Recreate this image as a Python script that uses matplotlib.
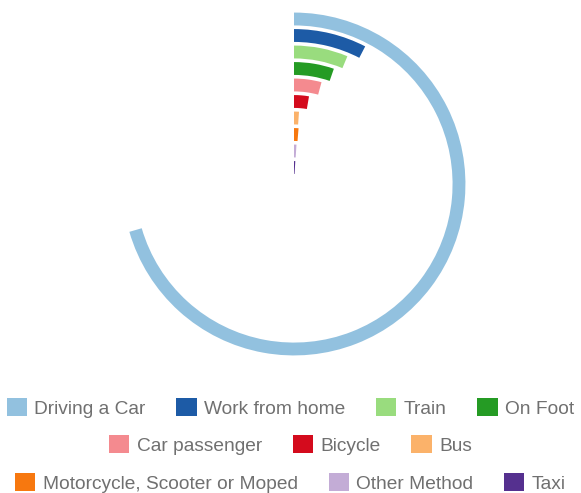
import numpy as np
import matplotlib.pyplot as plt
from matplotlib.patches import Patch

plt.rcParams['font.family'] = ['Liberation Sans', 'DejaVu Sans']

# share of journeys to work (%), full circle = 100
modes = ['Driving a Car', 'Work from home', 'Train', 'On Foot',
         'Car passenger', 'Bicycle', 'Bus',
         'Motorcycle, Scooter or Moped', 'Other Method', 'Taxi']
shares = [70.5, 7.6, 6.3, 5.3, 4.2, 2.7, 1.1, 1.3, 1.0, 0.9]
colors = ['#92c1df', '#1d5ba6', '#99dc7e', '#259b24', '#f48a8f',
          '#d40b1d', '#fbb26a', '#f7780f', '#c3acd6', '#55308f']
legend_rows = [4, 3, 3]

fig = plt.figure(figsize=(5.81, 4.93), dpi=100)
W, H = 581, 493
cx, cy = 294, 184          # centre of the rings in pixels
step = 16.5                # px per ring
rmax = 10.6
R = rmax * step
ax = fig.add_axes([(cx - R) / W, (H - cy - R) / H, 2 * R / W, 2 * R / H],
                  projection='polar')
ax.set_theta_zero_location('N')
ax.set_theta_direction(-1)

n = len(modes)
pos = np.arange(n, 0, -1)
ax.barh(pos, np.deg2rad(np.array(shares) * 3.6), height=0.78, left=0,
        color=colors, align='center')
ax.set_ylim(0, rmax)
ax.set_axis_off()

# legend, three centred rows
row_y = [1 - 408 / H, 1 - 445 / H, 1 - 483 / H]
start = 0
for k, cnt in enumerate(legend_rows):
    hs = [Patch(facecolor=colors[i], edgecolor='none')
          for i in range(start, start + cnt)]
    labs = modes[start:start + cnt]
    fig.legend(hs, labs, loc='center', bbox_to_anchor=(0.5, row_y[k]),
               ncol=cnt, frameon=False, fontsize=13.8, labelcolor='#707070',
               handlelength=1.05, handleheight=1.05, handletextpad=0.4,
               columnspacing=1.6, borderpad=0, borderaxespad=0)
    start += cnt

fig.savefig('out.png', dpi=100)
